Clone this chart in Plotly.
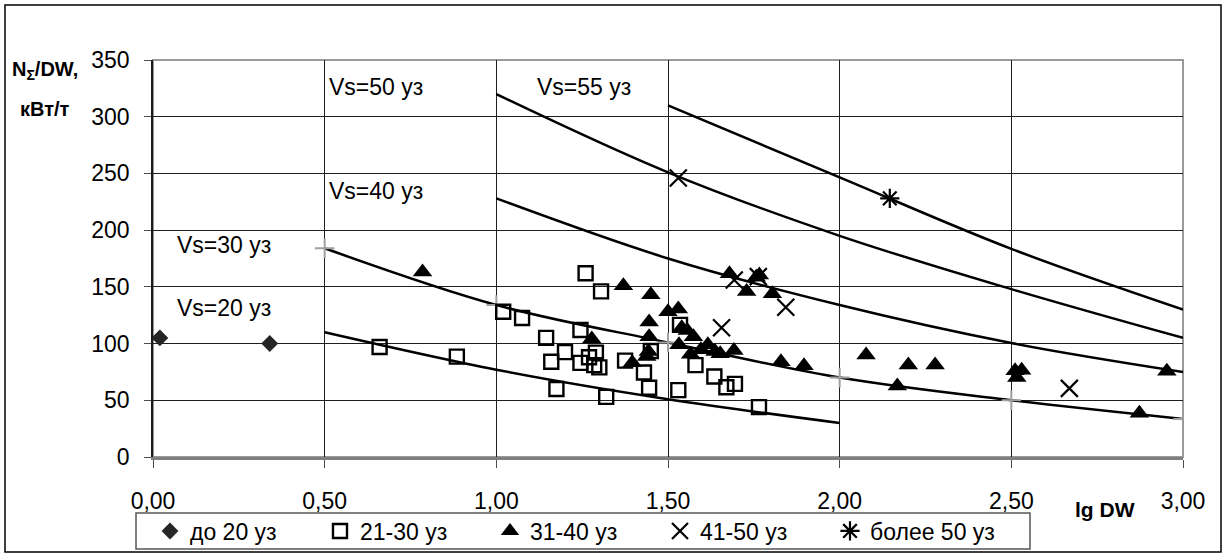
import plotly.graph_objects as go

# ---- measured ships, grouped by service speed ----
d20_x = [0.02, 0.34]
d20_y = [105, 100]

d30_x = [0.66, 0.885, 1.02, 1.075, 1.145, 1.16, 1.175, 1.20, 1.245, 1.26, 1.245, 1.27, 1.29, 1.285,
         1.30, 1.305, 1.32, 1.375, 1.43, 1.45, 1.445, 1.53, 1.535, 1.58, 1.635, 1.67, 1.695, 1.765]
d30_y = [97, 88.5, 128, 122.5, 105, 84, 60, 92.5, 112, 162, 83, 88, 92, 81,
         79, 146, 53, 85, 74.5, 93.5, 61, 59, 116.5, 81, 71, 61.5, 64.5, 44]

d40_x = [0.785, 1.37, 1.45, 1.50, 1.53, 1.445, 1.445, 1.278, 1.443, 1.438, 1.396, 1.54, 1.556,
         1.574, 1.532, 1.566, 1.596, 1.616, 1.637, 1.652, 1.692, 1.679, 1.729, 1.757, 1.766,
         1.804, 1.829, 1.896, 2.077, 2.168, 2.20, 2.278, 2.511, 2.516, 2.53, 2.953, 2.873]
d40_y = [163, 151, 143, 128, 130.5, 119, 106, 104, 93, 88.5, 83, 114, 111.5,
         106, 99, 90.5, 94.5, 99, 93, 91, 94, 161.5, 146, 158.5, 160.5,
         144, 84, 80.5, 90, 62.5, 81, 81, 76, 70, 76.5, 75.5, 38.5]

d50_x = [1.53, 1.693, 1.763, 1.843, 1.656, 2.669]
d50_y = [246, 156, 159, 132, 114, 60.5]

d55_x = [2.146]
d55_y = [228]

# ---- reference curves for constant speed Vs ----
v20_x = [0.5, 1.0, 1.5, 2.0]
v20_y = [110, 77, 51, 30]
v30_x = [0.5, 1.0, 1.5, 2.0, 2.5, 3.0]
v30_y = [184, 134, 101, 70, 50, 33.5]
v40_x = [1.0, 1.5, 2.0, 2.5, 3.0]
v40_y = [228, 175, 134, 100.5, 75]
v50_x = [1.0, 1.5, 2.0, 2.5, 3.0]
v50_y = [320, 251, 195, 148, 105]
v55_x = [1.5, 2.0, 2.5, 3.0]
v55_y = [310, 246.5, 183.5, 130]

curve_labels = ["Vs=20 уз", "Vs=30 уз", "Vs=40 уз", "Vs=50 уз", "Vs=55 уз"]
label_pos_x = [0.064, 0.064, 0.507, 0.507, 1.113]
label_pos_y = [131.5, 187, 234.8, 326.6, 326.6]

legend_names = ["до 20 уз", "21-30 уз", "31-40 уз", "41-50 уз", "более 50 уз"]

FONT = "Liberation Sans, Arial, sans-serif"
W, H = 1225, 555
ML, MR, MT, MB = 153, 42, 60, 98
PW, PH = W - ML - MR, H - MT - MB


def px(xp):
    return (xp - ML) / PW


def py(yp):
    return (H - MB - yp) / PH


fig = go.Figure()

curve_sets = [(v20_x, v20_y), (v30_x, v30_y), (v40_x, v40_y), (v50_x, v50_y), (v55_x, v55_y)]
for cx, cy in curve_sets:
    fig.add_trace(go.Scatter(
        x=cx, y=cy, mode="lines", line=dict(color="black", width=2.5, shape="spline", smoothing=1),
        showlegend=False, hoverinfo="skip"))

# grey markers at the nodes of the Vs=30 curve
fig.add_trace(go.Scatter(
    x=v30_x, y=v30_y, mode="markers", showlegend=False, hoverinfo="skip",
    marker=dict(symbol="cross-thin-open", size=14, color="#a0a0a0",
                line=dict(color="#a0a0a0", width=2))))

fig.add_trace(go.Scatter(
    x=d20_x, y=d20_y, mode="markers", name=legend_names[0],
    marker=dict(symbol="diamond", size=13, color="#262626", line=dict(width=0))))
fig.add_trace(go.Scatter(
    x=d30_x, y=d30_y, mode="markers", name=legend_names[1],
    marker=dict(symbol="square-open", size=14, color="black", line=dict(color="black", width=2.4))))
fig.add_trace(go.Scatter(
    x=d40_x, y=d40_y, mode="markers", name=legend_names[2],
    marker=dict(symbol="triangle-up", size=17, color="black", line=dict(width=0))))
fig.add_trace(go.Scatter(
    x=d50_x, y=d50_y, mode="markers", name=legend_names[3],
    marker=dict(symbol="x-thin-open", size=17, color="black", line=dict(color="black", width=2.2))))
fig.add_trace(go.Scatter(
    x=d55_x, y=d55_y, mode="markers", name=legend_names[4],
    marker=dict(symbol="asterisk-open", size=16, color="black", line=dict(color="black", width=2.2))))

annotations = []
for t, lx, ly in zip(curve_labels, label_pos_x, label_pos_y):
    annotations.append(dict(x=lx, y=ly, xref="x", yref="y", text=t, showarrow=False,
                            xanchor="left", yanchor="middle",
                            font=dict(family=FONT, size=23, color="black")))

annotations += [
    dict(x=px(45), y=py(70), xref="paper", yref="paper", text="<b>N<sub>Σ</sub>/DW,</b>",
         showarrow=False, xanchor="center", yanchor="middle",
         font=dict(family=FONT, size=20, color="black")),
    dict(x=px(45), y=py(109), xref="paper", yref="paper", text="<b>кВт/т</b>",
         showarrow=False, xanchor="center", yanchor="middle",
         font=dict(family=FONT, size=20, color="black")),
    dict(x=px(1105), y=py(509), xref="paper", yref="paper", text="<b>lg DW</b>",
         showarrow=False, xanchor="center", yanchor="middle",
         font=dict(family=FONT, size=21, color="black")),
]

shapes = [
    # plot area frame
    dict(type="rect", xref="paper", yref="paper", x0=0, y0=0, x1=1, y1=1,
         line=dict(color="#9a9a9a", width=2), layer="below"),
    # legend frame
    dict(type="rect", xref="paper", yref="paper", x0=px(136), y0=py(549), x1=px(1030), y1=py(513),
         line=dict(color="#555555", width=1.5)),
    # chart frame
    dict(type="rect", xref="paper", yref="paper", x0=px(5), y0=py(552), x1=px(1221), y1=py(5),
         line=dict(color="black", width=1.5)),
]

fig.update_layout(
    width=W, height=H, autosize=False,
    margin=dict(l=ML, r=MR, t=MT, b=MB, autoexpand=False),
    paper_bgcolor="white", plot_bgcolor="white",
    separators=", ",
    font=dict(family=FONT, size=23, color="black"),
    annotations=annotations, shapes=shapes,
    legend=dict(orientation="h", x=px(150), xanchor="left", y=py(531), yanchor="middle",
                font=dict(family=FONT, size=23, color="black"),
                bgcolor="rgba(0,0,0,0)", borderwidth=0,
                entrywidth=125, entrywidthmode="pixels", itemwidth=30),
)

fig.update_xaxes(range=[0, 3], tick0=0, dtick=0.5, tickformat=".2f",
                 showgrid=True, gridcolor="#1f1f1f", gridwidth=1,
                 zeroline=False, showline=True, linecolor="#7f7f7f", linewidth=2.5,
                 ticks="outside", ticklen=8, tickcolor="#4d4d4d", ticklabelstandoff=14,
                 tickfont=dict(family=FONT, size=23, color="black"))
fig.update_yaxes(range=[0, 350], tick0=0, dtick=50,
                 showgrid=True, gridcolor="#1f1f1f", gridwidth=1,
                 zeroline=False, showline=True, linecolor="#1a1a1a", linewidth=1.5,
                 ticks="outside", ticklen=7, tickcolor="#4d4d4d", ticklabelstandoff=10,
                 tickfont=dict(family=FONT, size=23, color="black"))

fig.write_html("out.html")
